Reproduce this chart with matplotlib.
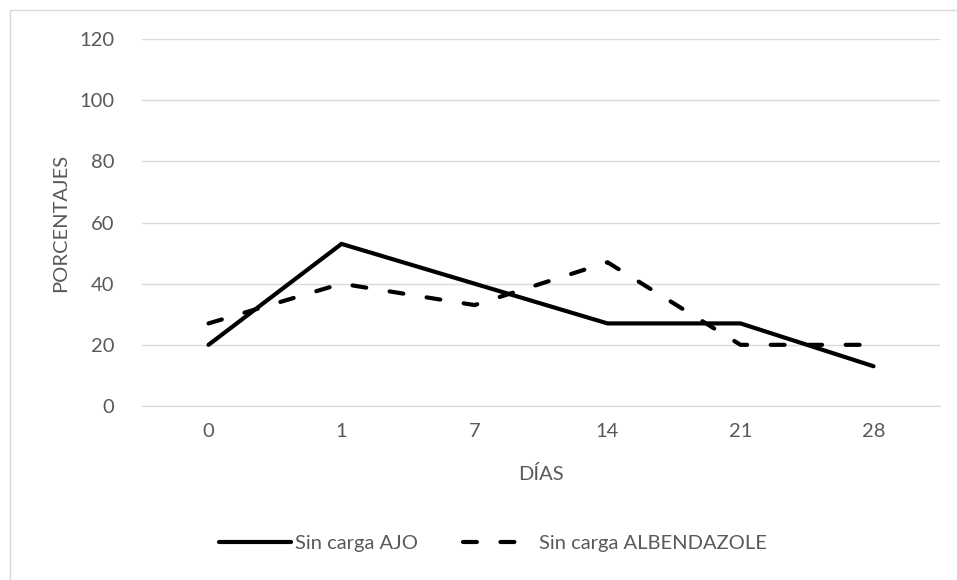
import matplotlib
matplotlib.use('Agg')
import matplotlib.pyplot as plt
from matplotlib.patches import Rectangle

dias = ["0", "1", "7", "14", "21", "28"]
ajo = [20, 53, 40, 27, 27, 13]
albendazole = [27, 40, 33, 47, 20, 20]

plt.rcParams['font.family'] = ['Lato', 'DejaVu Sans']
plt.rcParams['lines.scale_dashes'] = False
txt = '#595959'
fs = 14.5

fig = plt.figure(figsize=(9.57, 5.8), dpi=100)
ax = fig.add_axes([142/957, 174/580, 798/957, 367/580])

x = range(len(dias))
ax.plot(x, ajo, color='black', lw=3, solid_capstyle='round', solid_joinstyle='miter',
        label='Sin carga AJO')
ax.plot(x, albendazole, color='black', lw=3, dashes=(10, 17), dash_capstyle='round',
        label='Sin carga ALBENDAZOLE')

ax.set_xlim(-0.5, len(dias) - 0.5)
ax.set_ylim(0, 120)
ax.set_yticks(range(0, 121, 20))
ax.set_xticks(list(x))
ax.set_xticklabels(dias)
ax.grid(axis='y', color='#d9d9d9', lw=1)
ax.set_axisbelow(True)
for s in ['top', 'right', 'left']:
    ax.spines[s].set_visible(False)
ax.spines['bottom'].set_color('#d9d9d9')
ax.tick_params(length=0, labelsize=fs, labelcolor=txt)
ax.tick_params(axis='y', pad=20)
ax.tick_params(axis='x', pad=12)

ax.set_xlabel('DÍAS', fontsize=fs, color=txt, labelpad=18)
ax.set_ylabel('PORCENTAJES', fontsize=fs, color=txt, labelpad=7)

fig.legend(loc='center', bbox_to_anchor=(493/957, 37/580), ncol=2, frameon=False,
           fontsize=fs, labelcolor=txt, handlelength=3.6, columnspacing=2.2,
           handletextpad=0.2)

fig.patches.append(Rectangle((10/957, -0.1), 1.2, (570/580) + 0.1, transform=fig.transFigure,
                             fill=False, edgecolor='#d9d9d9', lw=1))

fig.savefig('out.png')
